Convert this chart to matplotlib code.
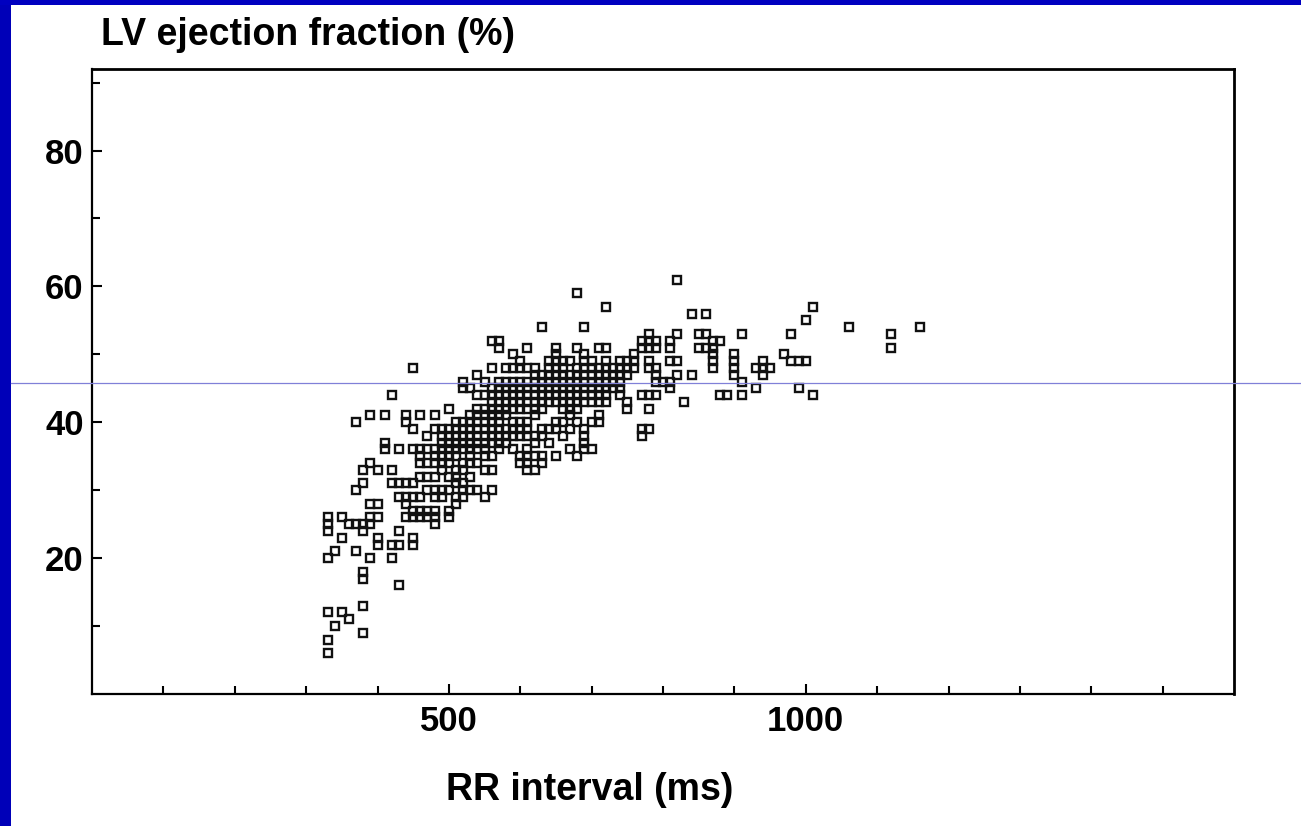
import numpy as np
import matplotlib.pyplot as plt
from matplotlib.lines import Line2D
from matplotlib.patches import Rectangle
from matplotlib.ticker import FixedLocator, NullFormatter

plt.rcParams["font.family"] = ["Liberation Sans", "DejaVu Sans"]

# RR interval (ms) -> LV ejection fraction (%) values,
# grouped by 10 ms column.
left_tail = {
    330: [6, 8, 12, 20, 24, 25, 26],
    340: [10, 21],
    350: [12, 23, 26],
    360: [11, 25],
    370: [21, 25, 30, 40],
    380: [9, 13, 17, 18, 24, 25, 31, 33],
    390: [20, 25, 26, 28, 34, 41],
    400: [22, 23, 26, 28, 33],
    410: [36, 37, 41],
    420: [20, 22, 31, 33, 44],
    430: [16, 22, 24, 29, 31, 36],
    440: [26, 28, 29, 31, 40, 41],
}

core_low = {
    450: [22, 23, 26, 27, 29, 31, 36, 39, 48],
    460: [26, 27, 29, 32, 34, 35, 36, 41],
    470: [26, 27, 30, 32, 34, 36, 38],
    480: [25, 26, 27, 29, 30, 32, 34, 35, 36, 39, 41],
    490: [29, 30, 33, 34, 35, 36, 37, 38, 39],
    500: [26, 27, 30, 32, 34, 35, 36, 37, 38, 39, 42],
    510: [28, 29, 31, 32, 33, 35, 36, 37, 38, 39, 40],
    520: [29, 30, 31, 33, 34, 36, 37, 38, 39, 40, 45, 46],
    530: [30, 32, 34, 35, 36, 37, 38, 39, 40, 41, 45],
    540: [30, 34, 36, 37, 38, 39, 40, 41, 42, 44, 47],
    550: [29, 33, 35, 36, 37, 38, 39, 40, 41, 42, 44, 46],
    560: [30, 33, 35, 37, 38, 39, 40, 41, 42, 43, 44, 45, 48, 52],
}

core_high = {
    570: [36, 37, 38, 39, 40, 41, 42, 43, 44, 45, 46, 51, 52],
    580: [37, 38, 39, 41, 42, 43, 44, 45, 46, 48],
    590: [36, 38, 39, 40, 42, 43, 44, 45, 46, 48, 50],
    600: [34, 35, 38, 39, 40, 42, 43, 44, 45, 46, 48, 49],
    610: [33, 34, 35, 36, 38, 39, 40, 42, 43, 44, 45, 46, 48, 51],
    620: [33, 35, 37, 38, 41, 42, 43, 44, 45, 46, 47, 48],
    630: [34, 35, 38, 39, 42, 43, 44, 45, 46, 47, 54],
    640: [37, 39, 43, 44, 45, 46, 47, 48, 49],
    650: [35, 39, 40, 43, 44, 45, 46, 47, 48, 49, 50, 51],
    660: [38, 40, 42, 43, 44, 45, 46, 47, 48, 49],
    670: [36, 39, 41, 42, 43, 44, 45, 46, 47, 49],
    680: [35, 40, 42, 43, 44, 45, 46, 47, 48, 51, 59],
    690: [36, 37, 38, 39, 43, 44, 45, 46, 47, 48, 49, 50, 54],
    700: [36, 40, 43, 44, 45, 46, 47, 48, 49],
    710: [40, 41, 43, 44, 45, 46, 47, 48, 51],
    720: [43, 44, 45, 46, 47, 48, 49, 51, 57],
    730: [45, 46, 47, 48],
    740: [44, 45, 46, 47, 48, 49],
}

right_wing = {
    750: [42, 43, 47, 48, 49],
    760: [48, 49, 50],
    770: [38, 39, 44, 51, 52],
    780: [39, 42, 44, 48, 49, 51, 52, 53],
    790: [44, 46, 47, 48, 51, 52],
    800: [46],
    810: [45, 46, 49, 51, 52],
    820: [47, 49, 53, 61],
    830: [43],
    840: [47, 56],
    850: [51, 53],
    860: [51, 53, 56],
    870: [48, 49, 50, 51, 52],
    880: [44, 52],
    890: [44],
    900: [47, 48, 49, 50],
    910: [44, 46, 53],
    930: [45, 48],
    940: [47, 48, 49],
    950: [48],
    970: [50],
    980: [49, 53],
    990: [45, 49],
    1000: [49, 55],
    1010: [44, 57],
    1060: [54],
    1120: [51, 53],
    1160: [54],
}

x_major = [500, 1000]
x_minor = [100, 200, 300, 400, 600, 700, 800, 900, 1100, 1200, 1300, 1400, 1500]
y_major = [20, 40, 60, 80]
y_minor = [10, 30, 50, 70, 90]


def flatten(*groups):
    rr, ef = [], []
    for g in groups:
        for r, vals in g.items():
            for v in vals:
                rr.append(r)
                ef.append(v)
    return np.array(rr), np.array(ef)


rr, ef = flatten(left_tail, core_low, core_high, right_wing)

W, H = 1301, 826
fig = plt.figure(figsize=(W / 100, H / 100), dpi=100, facecolor="white")

# slide frame: blue strips on the left and top
fig.add_artist(Rectangle((0, 0), 11 / W, 1, transform=fig.transFigure,
                         facecolor="#0000b8", edgecolor="none", zorder=0))
fig.add_artist(Rectangle((0, 1 - 5 / H), 1, 5 / H, transform=fig.transFigure,
                         facecolor="#0000c0", edgecolor="none", zorder=0))

ax = fig.add_axes([92 / W, 1 - 694 / H, (1234 - 92) / W, (694 - 69) / H])
ax.plot(rr, ef, linestyle="none", marker="s", markersize=6.3,
        markerfacecolor="none", markeredgecolor="#111111", markeredgewidth=1.7)

ax.set_xlim(0, 1600)
ax.set_ylim(0, 92)

ax.xaxis.set_major_locator(FixedLocator(x_major))
ax.xaxis.set_minor_locator(FixedLocator(x_minor))
ax.yaxis.set_major_locator(FixedLocator(y_major))
ax.yaxis.set_minor_locator(FixedLocator(y_minor))
ax.xaxis.set_minor_formatter(NullFormatter())
ax.yaxis.set_minor_formatter(NullFormatter())

ax.tick_params(which="both", direction="in", width=1.5, color="black",
               top=False, right=False)
ax.tick_params(which="major", length=7, labelsize=25, pad=8)
ax.tick_params(axis="y", which="major", pad=6)
ax.tick_params(which="minor", length=6)
for lab in ax.get_xticklabels() + ax.get_yticklabels():
    lab.set_fontweight("bold")

for name, s in ax.spines.items():
    s.set_color("black")
    s.set_linewidth(2.0 if name in ("top", "right") else 1.6)

fig.text(101 / W, 1 - 45 / H, "LV ejection fraction (%)", fontsize=27,
         fontweight="bold", ha="left", va="baseline")
fig.text(590 / W, 1 - 800 / H, "RR interval (ms)", fontsize=27,
         fontweight="bold", ha="center", va="baseline")

# thin horizontal line running across the slide
fig.add_artist(Line2D([11 / W, 1], [1 - 383 / H, 1 - 383 / H],
                      transform=fig.transFigure, color="#8080d8",
                      linewidth=0.9, zorder=10))

fig.savefig("out.png", dpi=100, facecolor="white")
